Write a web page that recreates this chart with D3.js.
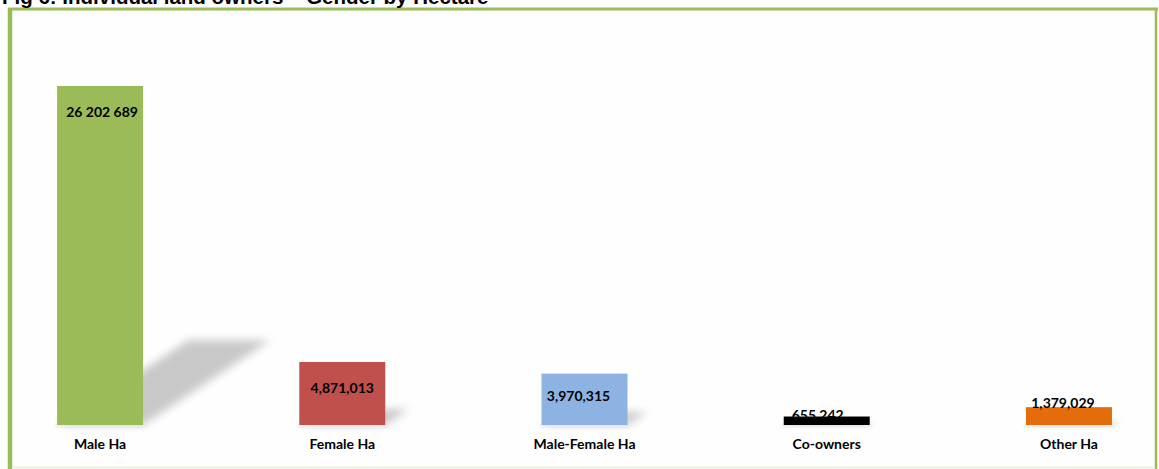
<!DOCTYPE html>
<html>
<head>
<meta charset="utf-8">
<script src="https://cdn.jsdelivr.net/npm/d3@7"></script>
<style>
  html, body { margin: 0; padding: 0; background: #ffffff; }
  svg { display: block; }
</style>
</head>
<body>
<svg id="chart" width="1159" height="469"></svg>
<script>
const titleText = "Fig 6: Individual land owners \u2013 Gender by Hectare";
const categories = ["Male Ha", "Female Ha", "Male-Female Ha", "Co-owners", "Other Ha"];
const values = [26202689, 4871013, 3970315, 655242, 1379029];
const valueLabels = ["26 202 689", "4,871,013", "3,970,315", "655,242", "1,379,029"];
const colors = ["#9bbb59", "#c0504d", "#8db3e2", "#000000", "#e46c0a"];

const svg = d3.select("#chart");

const defs = svg.append("defs");
defs.append("filter").attr("id", "blur").attr("x", "-50%").attr("y", "-50%").attr("width", "200%").attr("height", "200%")
  .append("feGaussianBlur").attr("stdDeviation", 4);
defs.append("filter").attr("id", "blur2").attr("x", "-50%").attr("y", "-50%").attr("width", "200%").attr("height", "200%")
  .append("feGaussianBlur").attr("stdDeviation", 1.5);

// frame
svg.append("rect").attr("x", 10).attr("y", 9).attr("width", 1146).attr("height", 458)
  .attr("fill", "#fefefe").attr("stroke", "none");
svg.append("line").attr("x1", 8).attr("x2", 1158).attr("y1", 9).attr("y2", 9)
  .attr("stroke", "#9bbb59").attr("stroke-width", 3);
svg.append("line").attr("x1", 10).attr("x2", 10).attr("y1", 8).attr("y2", 469)
  .attr("stroke", "#9bbb59").attr("stroke-width", 4.5);
svg.append("line").attr("x1", 1156).attr("x2", 1156).attr("y1", 8).attr("y2", 469)
  .attr("stroke", "#9bbb59").attr("stroke-width", 2.5);
svg.append("line").attr("x1", 12).attr("x2", 1155).attr("y1", 467.5).attr("y2", 467.5)
  .attr("stroke", "#eef1df").attr("stroke-width", 2);

// title (partially cut off at top, as in the source image)
svg.append("text").attr("x", 2).attr("y", 4)
  .attr("font-family", "Liberation Sans, Arial, sans-serif").attr("font-weight", "bold")
  .attr("font-size", 20.5).attr("fill", "#000").text(titleText);

const x = d3.scaleBand().domain(categories).range([12, 1157])
  .paddingInner(0.645).paddingOuter(0.186);
const y = d3.scaleLinear().domain([0, values[0]]).range([425, 86]);

const data = categories.map((c, i) => ({ c, v: values[i], label: valueLabels[i], color: colors[i] }));

// perspective shadows
const shadowG = svg.append("g");
data.forEach(d => {
  const x0 = x(d.c), bw = x.bandwidth();
  const h = (y(0) - y(d.v)) * 0.25;
  const shift = h * 1.5;
  const base = y(0);
  const pts = [[x0 + 4, base], [x0 + bw, base], [x0 + bw + shift, base - h], [x0 + 4 + shift, base - h]];
  shadowG.append("path")
    .attr("d", d3.line()(pts) + "Z")
    .attr("fill", "#bfbfbf").attr("opacity", 0.85)
    .attr("filter", "url(#blur)");
  shadowG.append("rect")
    .attr("x", x0 - 2).attr("y", base - 1).attr("width", bw + 4).attr("height", 3)
    .attr("fill", "#e6e6e6").attr("filter", "url(#blur2)");
});

// bars
svg.append("g").selectAll("rect").data(data).join("rect")
  .attr("x", d => x(d.c))
  .attr("y", d => y(d.v))
  .attr("width", x.bandwidth())
  .attr("height", d => y(0) - y(d.v))
  .attr("fill", d => d.color);

// value labels
const labelPos = [
  { dx: 2, yy: d => y(d.v) + 31 },
  { dx: 0, yy: d => y(d.v) + 31 },
  { dx: -6, yy: d => y(d.v) + 27 },
  { dx: -9, yy: d => y(d.v) + 3 },
  { dx: -6, yy: d => y(d.v) + 1 }
];
svg.append("g").selectAll("text").data(data).join("text")
  .attr("x", (d, i) => x(d.c) + x.bandwidth() / 2 + labelPos[i].dx)
  .attr("y", (d, i) => labelPos[i].yy(d))
  .attr("text-anchor", "middle")
  .attr("font-family", "Lato, 'Open Sans', sans-serif").attr("font-weight", "bold")
  .attr("font-size", 14).attr("fill", "#000")
  .text(d => d.label);

// category labels
svg.append("g").selectAll("text").data(data).join("text")
  .attr("x", d => x(d.c) + x.bandwidth() / 2)
  .attr("y", 449)
  .attr("text-anchor", "middle")
  .attr("font-family", "Lato, 'Open Sans', sans-serif").attr("font-weight", "bold")
  .attr("font-size", 14).attr("fill", "#000")
  .text(d => d.c);
</script>
</body>
</html>
